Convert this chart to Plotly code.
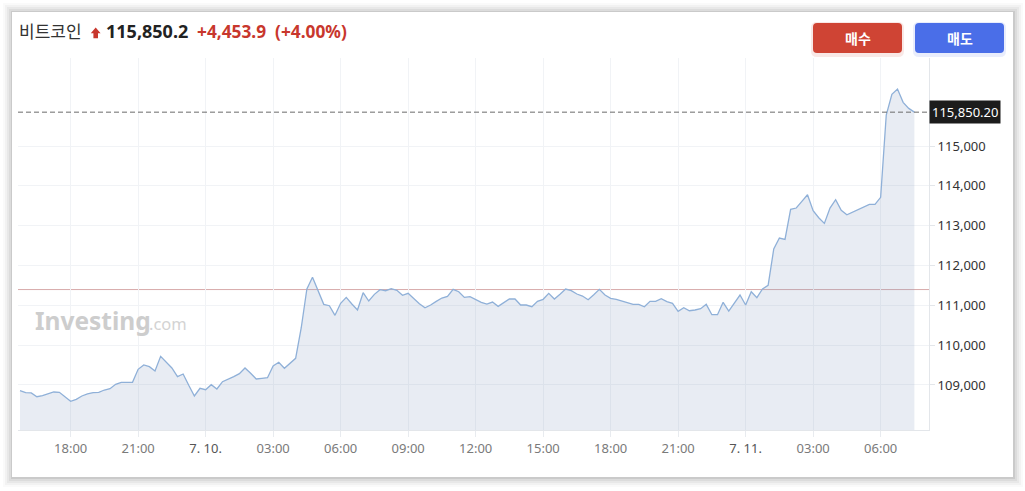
import plotly.graph_objects as go
import pandas as pd

# ---------------- data ----------------
start_time = "2025-07-09 15:45"
interval = "15min"
prices = [
    108857, 108807, 108800, 108706, 108731, 108774, 108824, 108816, 108699, 108590,
    108640, 108724, 108774, 108807, 108816, 108874, 108907, 109017, 109067, 109067,
    109067, 109393, 109502, 109460, 109351, 109720, 109577, 109427, 109209, 109276,
    108992, 108724, 108916, 108882, 109008, 108900, 109083, 109143, 109209, 109284,
    109427, 109293, 109151, 109168, 109183, 109477, 109570, 109419, 109552, 109670,
    110438, 111410, 111703, 111342, 111025, 110990, 110749, 111050, 111200, 111033,
    110883, 111317, 111108, 111276, 111393, 111367, 111417, 111376, 111251, 111301,
    111159, 111041, 110940, 111008, 111100, 111184, 111226, 111400, 111342, 111200,
    111217, 111151, 111076, 111033, 111083, 110975, 111076, 111159, 111159, 111008,
    111008, 110965, 111100, 111151, 111301, 111159, 111276, 111410, 111367, 111284,
    111234, 111142, 111267, 111400, 111259, 111176, 111151, 111109, 111066, 111025,
    111025, 110965, 111100, 111100, 111167, 111092, 111050, 110850, 110940, 110865,
    110883, 110915, 111025, 110765, 110765, 111076, 110857, 111058, 111259, 111008,
    111342, 111192, 111410, 111500, 112414, 112690, 112657, 113410, 113443, 113610,
    113777, 113375, 113199, 113058, 113443, 113651, 113384, 113275, 113342, 113418,
    113468, 113535, 113535, 113711, 115777, 116296, 116430, 116096, 115945, 115850.2,
]
times = pd.date_range(start_time, periods=len(prices), freq=interval)

title_name = "비트코인"
last_price = 115850.2
change_abs = 4453.9
change_pct = 4.00
prev_close = last_price - change_abs

y_tick_values = [109000, 110000, 111000, 112000, 113000, 114000, 115000]
x_tick_times = ["2025-07-09 18:00", "2025-07-09 21:00", "2025-07-10 00:00", "2025-07-10 03:00",
                "2025-07-10 06:00", "2025-07-10 09:00", "2025-07-10 12:00", "2025-07-10 15:00",
                "2025-07-10 18:00", "2025-07-10 21:00", "2025-07-11 00:00", "2025-07-11 03:00",
                "2025-07-11 06:00"]
x_tick_labels = ["18:00", "21:00", "7. 10.", "03:00", "06:00", "09:00", "12:00", "15:00",
                 "18:00", "21:00", "7. 11.", "03:00", "06:00"]
x_range = ["2025-07-09 15:39:40", "2025-07-11 08:09"]
y_range = [107870, 117210]
buy_label = "매수"
sell_label = "매도"

# ---------------- layout helpers ----------------
W, H = 1025, 491
L, R, T, B = 18, 929, 58, 430


def px(x):
    return (x - L) / (R - L)


def py(y):
    return (B - y) / (B - T)


def rrect(x0, y0, x1, y1, r):
    pts = [
        ("M", [(x0 + r, y0)]), ("L", [(x1 - r, y0)]), ("Q", [(x1, y0), (x1, y0 + r)]),
        ("L", [(x1, y1 - r)]), ("Q", [(x1, y1), (x1 - r, y1)]), ("L", [(x0 + r, y1)]),
        ("Q", [(x0, y1), (x0, y1 - r)]), ("L", [(x0, y0 + r)]), ("Q", [(x0, y0), (x0 + r, y0)]),
    ]
    s = ""
    for cmd, ps in pts:
        s += cmd + " " + " ".join(f"{px(a):.5f},{py(b):.5f}" for a, b in ps) + " "
    return s + "Z"


FONT = "Noto Sans, Noto Sans CJK KR, sans-serif"

fig = go.Figure()
fig.add_trace(go.Scatter(
    x=times, y=prices, mode="lines",
    line=dict(color="#8fb0d8", width=1.3),
    fill="tozeroy", fillcolor="rgba(140,160,195,0.2)",
    hoverinfo="skip", showlegend=False,
))

shapes = []
# card shadow
for d, a in [(9, 0.02), (7, 0.03), (5, 0.04), (3, 0.05), (1, 0.08)]:
    shapes.append(dict(type="rect", xref="paper", yref="paper", layer="below",
                       x0=px(12 - d), x1=px(1013 + d + 1), y0=py(12 - d), y1=py(477 + d + 1),
                       fillcolor=f"rgba(0,0,0,{a})", line=dict(width=0)))
shapes.append(dict(type="rect", xref="paper", yref="paper", layer="below",
                   x0=px(12), x1=px(1013), y0=py(12), y1=py(477),
                   fillcolor="white", line=dict(width=0)))
# buttons (soft shadow + body)
for (x0, x1, col, sh) in [(813, 902, "#cf4434", "rgba(207,68,52,0.12)"),
                          (915, 1004, "#4a6ee8", "rgba(74,110,232,0.12)")]:
    shapes.append(dict(type="path", xref="paper", yref="paper", layer="above",
                       path=rrect(x0 - 2, 22, x1 + 2, 57, 6), fillcolor=sh, line=dict(width=0)))
    shapes.append(dict(type="path", xref="paper", yref="paper", layer="above",
                       path=rrect(x0, 23, x1, 53, 4), fillcolor=col, line=dict(width=0)))
# up arrow
arrow = [(95.7, 27.6), (100.6, 33.2), (98.0, 33.2), (98.0, 38.3), (93.4, 38.3), (93.4, 33.2), (90.8, 33.2)]
shapes.append(dict(type="path", xref="paper", yref="paper", layer="above",
                   path="M " + " L ".join(f"{px(a):.5f},{py(b):.5f}" for a, b in arrow) + " Z",
                   fillcolor="#c8372d", line=dict(width=0)))
# previous close line
shapes.append(dict(type="line", xref="paper", yref="y", x0=0, x1=1, y0=prev_close, y1=prev_close,
                   line=dict(color="#d8aaaa", width=1), layer="below"))
# last price dashed line
shapes.append(dict(type="line", xref="paper", yref="y", x0=0, x1=1, y0=last_price, y1=last_price,
                   line=dict(color="#6b6b6b", width=1, dash="5px,3px"), layer="above"))

annotations = [
    dict(text=title_name, x=px(17), y=py(31.5), xref="paper", yref="paper", xanchor="left",
         yanchor="middle", showarrow=False, font=dict(family=FONT, size=17, color="#333333")),
    dict(text=f"<b>{last_price:,.1f}</b>", x=px(104), y=py(31.5), xref="paper", yref="paper",
         xanchor="left", yanchor="middle", showarrow=False,
         font=dict(family=FONT, size=18, color="#222222")),
    dict(text=f"<b>+{change_abs:,.1f}  (+{change_pct:.2f}%)</b>", x=px(195), y=py(31.5),
         xref="paper", yref="paper", xanchor="left", yanchor="middle", showarrow=False,
         font=dict(family=FONT, size=17.3, color="#c8372d")),
    dict(text=f"<b>{buy_label}</b>", x=px(857.5), y=py(38), xref="paper", yref="paper",
         xanchor="center", yanchor="middle", showarrow=False,
         font=dict(family=FONT, size=14, color="white")),
    dict(text=f"<b>{sell_label}</b>", x=px(959.5), y=py(38), xref="paper", yref="paper",
         xanchor="center", yanchor="middle", showarrow=False,
         font=dict(family=FONT, size=14, color="white")),
    dict(text="<b>Investing</b>", x=px(33), y=py(320), xref="paper", yref="paper",
         xanchor="left", yanchor="middle", showarrow=False,
         font=dict(family=FONT, size=24.5, color="#cdcdcd")),
    dict(text=".com", x=px(147), y=py(323), xref="paper", yref="paper",
         xanchor="left", yanchor="middle", showarrow=False,
         font=dict(family=FONT, size=16.5, color="#d3d3d3")),
    dict(text=f"{last_price:,.2f}", x=1, y=last_price, xref="paper", yref="y",
         xanchor="left", yanchor="middle", showarrow=False, bgcolor="#1c1c1c", borderpad=2,
         font=dict(family=FONT, size=13, color="white")),
]

tick_text = [f'<span style="color:#555555">{t}</span>' if "." in t else t for t in x_tick_labels]

fig.update_layout(
    width=W, height=H,
    margin=dict(l=L, r=W - R, t=T, b=H - B),
    paper_bgcolor="white", plot_bgcolor="rgba(0,0,0,0)",
    shapes=shapes, annotations=annotations,
    showlegend=False,
    font=dict(family=FONT),
    xaxis=dict(
        type="date", range=x_range,
        tickvals=pd.to_datetime(x_tick_times), ticktext=tick_text,
        showgrid=True, gridcolor="#f1f3f6", gridwidth=1,
        ticks="outside", ticklen=6, tickcolor="#e8ebef",
        showline=True, linecolor="#e3e6ea", linewidth=1,
        tickfont=dict(family=FONT, size=13, color="#7a7a7a"),
        zeroline=False, fixedrange=True,
    ),
    yaxis=dict(
        side="right", range=y_range,
        tickvals=y_tick_values, ticktext=[f"{v:,}" for v in y_tick_values],
        showgrid=True, gridcolor="#f1f3f6", gridwidth=1,
        ticks="outside", ticklen=5, tickcolor="#e3e6ea",
        showline=True, linecolor="#e3e6ea", linewidth=1,
        tickfont=dict(family=FONT, size=13, color="#333333"),
        zeroline=False, fixedrange=True,
    ),
)

fig.write_html("out.html", config={"displayModeBar": False},
               post_script="document.body.style.margin='0';")
